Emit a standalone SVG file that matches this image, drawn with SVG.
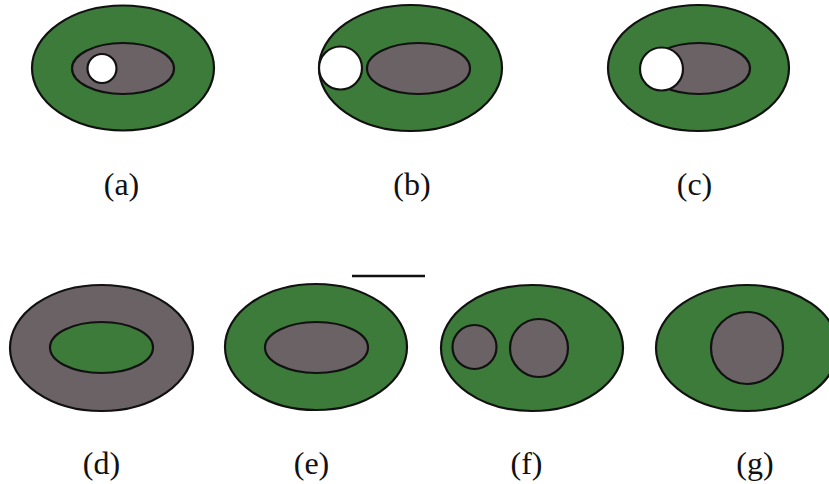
<svg xmlns="http://www.w3.org/2000/svg" width="829" height="484" viewBox="0 0 829 484">
<style>
.g{fill:#3c7b39;stroke:#111;stroke-width:2.2}
.d{fill:#6b6265;stroke:#111;stroke-width:2.2}
.w{fill:#fff;stroke:#111;stroke-width:2.2}
.t{font-family:"Liberation Serif","DejaVu Serif",serif;font-size:32px;fill:#111;text-anchor:middle}
</style>
<rect width="829" height="484" fill="#fff"/>
<g id="a">
<ellipse class="g" cx="123" cy="68" rx="91" ry="62.5"/>
<ellipse class="d" cx="123" cy="68.5" rx="51" ry="25.5"/>
<circle class="w" cx="102" cy="68.5" r="14.5"/>
<text class="t" x="121.5" y="195">(a)</text>
</g>
<g id="b">
<ellipse class="g" cx="410.5" cy="68" rx="91.5" ry="63"/>
<ellipse class="d" cx="418.5" cy="68.5" rx="51.5" ry="25.5"/>
<circle class="w" cx="340.5" cy="68" r="21.5"/>
<text class="t" x="412" y="195">(b)</text>
</g>
<g id="c">
<ellipse class="g" cx="698.5" cy="68" rx="90.5" ry="63"/>
<ellipse class="d" cx="699" cy="68.5" rx="51" ry="25.5"/>
<circle class="w" cx="661.5" cy="69" r="21.5"/>
<text class="t" x="694.5" y="195">(c)</text>
</g>
<g id="d">
<ellipse class="d" cx="101.5" cy="348" rx="91.5" ry="63"/>
<ellipse class="g" cx="101.5" cy="347.5" rx="51.5" ry="25.5"/>
<text class="t" x="101.5" y="474">(d)</text>
</g>
<g id="e">
<ellipse class="g" cx="316" cy="347" rx="91" ry="63"/>
<ellipse class="d" cx="316.5" cy="347.5" rx="51.5" ry="25.5"/>
<text class="t" x="311.5" y="474">(e)</text>
</g>
<g id="f">
<ellipse class="g" cx="532" cy="348" rx="91" ry="63"/>
<circle class="d" cx="474.5" cy="347" r="22"/>
<circle class="d" cx="539" cy="348" r="29"/>
<text class="t" x="526.5" y="474">(f)</text>
</g>
<g id="g">
<ellipse class="g" cx="747" cy="348" rx="91" ry="63"/>
<circle class="d" cx="747" cy="348" r="36"/>
<text class="t" x="755" y="474">(g)</text>
</g>
<g id="connectors">
<line x1="352" y1="276" x2="425" y2="276" stroke="#111" stroke-width="2.5"/>
</g>
</svg>
